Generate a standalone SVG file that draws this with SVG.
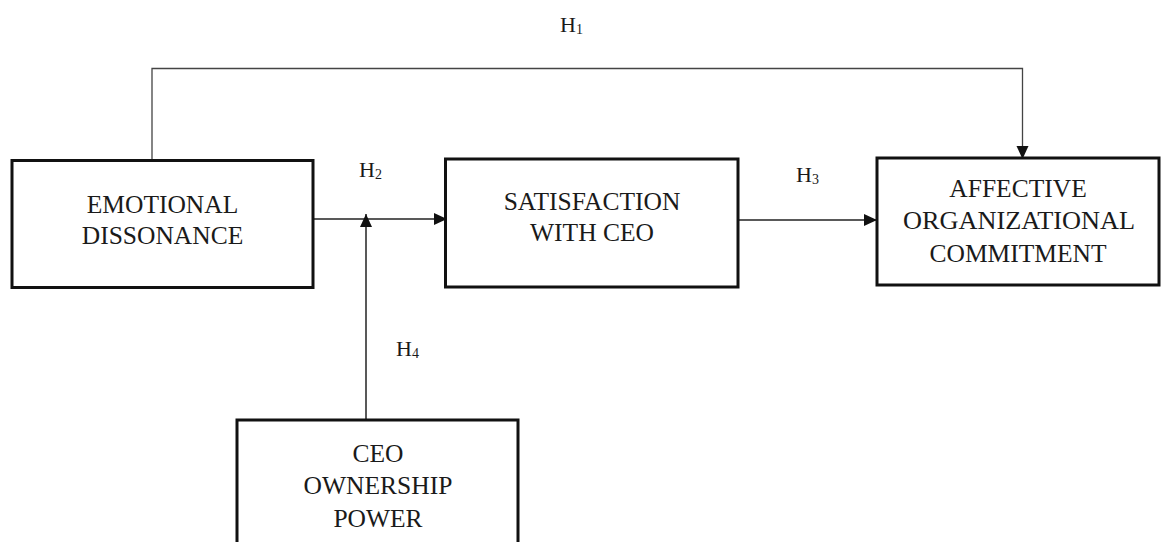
<svg xmlns="http://www.w3.org/2000/svg" width="1162" height="542" viewBox="0 0 1162 542">
  <style>
    .box { fill: #ffffff; stroke: #111111; stroke-width: 3; }
    .label { font-family: "Liberation Serif", "Times New Roman", "DejaVu Serif", serif; font-size: 25.5px; fill: #1a1a1a; text-anchor: middle; }
    .hyp { font-family: "Liberation Serif", "Times New Roman", "DejaVu Serif", serif; font-size: 22px; fill: #1a1a1a; }
    .sub { font-size: 14px; }
    .wire { fill: none; stroke: #222222; stroke-width: 1.5; }
    .thin { stroke: #444444; stroke-width: 1.3; }
  </style>
  <defs>
    <marker id="arrow" markerUnits="userSpaceOnUse" markerWidth="14" markerHeight="14" viewBox="0 0 14 12" refX="13" refY="6" orient="auto">
      <path d="M0,0 L13,6 L0,12 Z" fill="#111111"/>
    </marker>
  </defs>

  <rect width="1162" height="542" fill="#ffffff"/>

  <!-- connectors -->
  <g id="connectors">
    <!-- H1: emotional dissonance -> affective commitment -->
    <polyline class="wire thin" points="152,160 152,68.5 1022.5,68.5 1022.5,159" marker-end="url(#arrow)"/>
    <!-- H2: emotional dissonance -> satisfaction -->
    <line class="wire" x1="313" y1="219" x2="447" y2="219" marker-end="url(#arrow)"/>
    <!-- H3: satisfaction -> affective commitment -->
    <line class="wire" x1="738" y1="220" x2="877" y2="220" marker-end="url(#arrow)"/>
    <!-- H4: moderator onto the H2 path -->
    <line class="wire" x1="366" y1="420" x2="366" y2="214" marker-end="url(#arrow)"/>
  </g>

  <!-- hypothesis labels -->
  <g id="labels">
    <text class="hyp" x="560" y="32">H<tspan class="sub" dy="2">1</tspan></text>
    <text class="hyp" x="359" y="177">H<tspan class="sub" dy="2">2</tspan></text>
    <text class="hyp" x="796" y="182">H<tspan class="sub" dy="2">3</tspan></text>
    <text class="hyp" x="396" y="356">H<tspan class="sub" dy="2">4</tspan></text>
  </g>

  <g id="emotional-dissonance">
    <rect class="box" x="12" y="160.5" width="301" height="127"/>
    <text class="label" x="162.5" y="212.5">EMOTIONAL</text>
    <text class="label" x="162.5" y="244">DISSONANCE</text>
  </g>

  <g id="satisfaction-with-ceo">
    <rect class="box" x="445.5" y="159" width="292.5" height="128"/>
    <text class="label" x="592" y="210">SATISFACTION</text>
    <text class="label" x="592" y="241">WITH CEO</text>
  </g>

  <g id="affective-commitment">
    <rect class="box" x="877" y="158" width="282" height="127"/>
    <text class="label" x="1018" y="197">AFFECTIVE</text>
    <text class="label" x="1019" y="229" textLength="232" lengthAdjust="spacingAndGlyphs">ORGANIZATIONAL</text>
    <text class="label" x="1018" y="262">COMMITMENT</text>
  </g>

  <g id="ceo-ownership-power">
    <rect class="box" x="237" y="420" width="281" height="140"/>
    <text class="label" x="378" y="462">CEO</text>
    <text class="label" x="378" y="494">OWNERSHIP</text>
    <text class="label" x="378" y="527">POWER</text>
  </g>
</svg>
